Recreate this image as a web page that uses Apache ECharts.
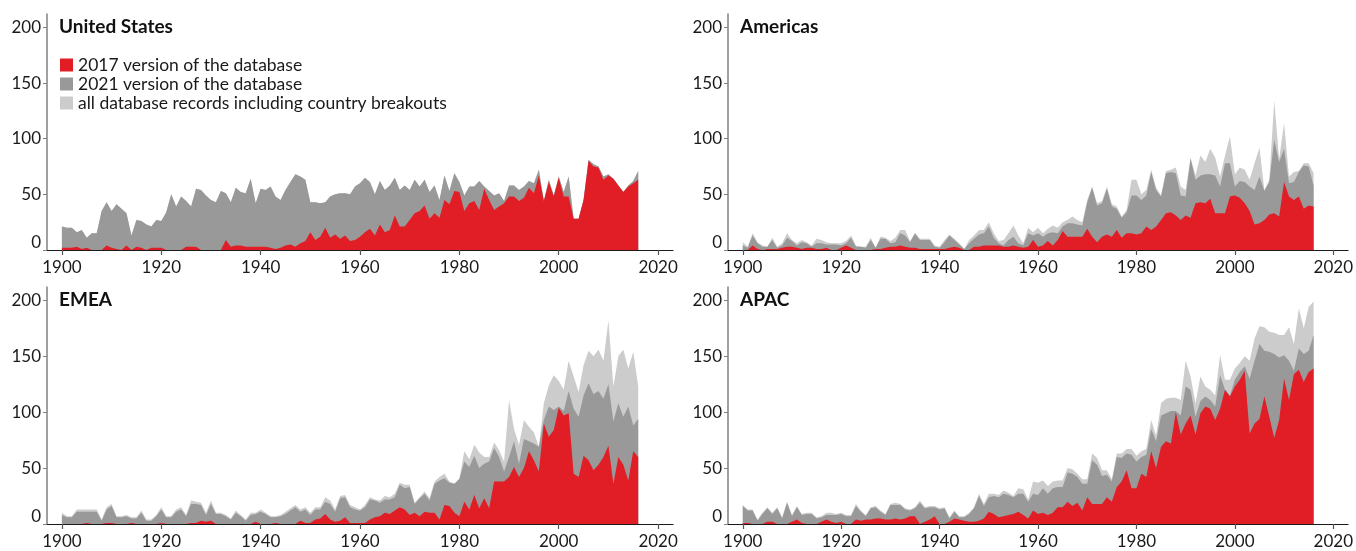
<!DOCTYPE html>
<html>
<head>
<meta charset="utf-8">
<script src="https://cdn.jsdelivr.net/npm/echarts@6/dist/echarts.min.js"></script>
<style>
  html, body { margin: 0; padding: 0; background: #ffffff; }
  #chart { width: 1356px; height: 551px; }
</style>
</head>
<body>
<div id="chart"></div>
<script>
// Years covered by the database extracts
const years = [];
for (let y = 1900; y <= 2016; y++) years.push(y);

const xTicks = [1900, 1920, 1940, 1960, 1980, 2000, 2020];
const yTicks = [0, 50, 100, 150, 200];

const NAME_2017 = '2017 version of the database';
const NAME_2021 = '2021 version of the database';
const NAME_ALL = 'all database records including country breakouts';

// ---- United States ----
const usAll = [
  21, 20, 20, 16, 18, 11, 15, 15, 35, 43,
  35, 41, 37, 33, 13, 27, 26, 23, 21, 27,
  26, 34, 50, 39, 48, 44, 39, 55, 54, 49,
  45, 43, 53, 51, 43, 56, 52, 51, 64, 42,
  55, 54, 57, 48, 45, 54, 61, 68, 66, 63,
  43, 43, 42, 43, 48, 50, 51, 51, 50, 57,
  60, 65, 61, 50, 62, 54, 58, 65, 54, 58,
  54, 63, 57, 63, 52, 58, 45, 67, 53, 69,
  61, 49, 57, 57, 62, 57, 53, 49, 51, 44,
  58, 58, 54, 57, 62, 60, 72, 44, 63, 49,
  66, 52, 66, 28, 28, 45, 81, 77, 75, 66,
  68, 64, 58, 52, 58, 62, 71
];
const us2021 = [
  21, 20, 20, 16, 18, 11, 15, 15, 35, 43,
  35, 41, 37, 33, 13, 27, 26, 23, 21, 27,
  26, 34, 50, 39, 48, 44, 39, 55, 54, 49,
  45, 43, 53, 51, 43, 56, 52, 51, 64, 42,
  55, 54, 57, 48, 45, 54, 61, 68, 66, 63,
  43, 43, 42, 43, 48, 50, 51, 51, 50, 57,
  60, 65, 61, 50, 62, 54, 58, 65, 54, 58,
  54, 63, 57, 63, 52, 58, 45, 67, 53, 69,
  61, 49, 57, 57, 62, 57, 53, 49, 51, 44,
  58, 58, 54, 57, 62, 60, 72, 44, 63, 49,
  66, 52, 66, 28, 28, 45, 81, 77, 75, 66,
  68, 64, 58, 52, 58, 62, 71
];
const us2017 = [
  2, 2, 2, 3, 1, 2, 0, 0, 0, 4,
  2, 1, 0, 4, 0, 3, 2, 0, 2, 2,
  2, 0, 0, 0, 0, 3, 3, 3, 0, 0,
  0, 0, 0, 9, 3, 4, 4, 3, 3, 3,
  3, 3, 2, 1, 2, 4, 5, 3, 6, 8,
  16, 9, 12, 20, 11, 14, 10, 13, 8, 9,
  12, 16, 19, 13, 23, 16, 18, 31, 21, 21,
  27, 33, 35, 40, 28, 33, 29, 45, 41, 53,
  52, 35, 42, 44, 36, 55, 45, 36, 39, 42,
  48, 48, 44, 47, 56, 51, 67, 44, 61, 48,
  65, 48, 48, 28, 28, 45, 80, 75, 74, 63,
  67, 64, 58, 52, 57, 60, 63
];

// ---- Americas ----
const amAll = [
  7, 3, 15, 7, 4, 3, 11, 3, 6, 15,
  9, 6, 9, 7, 4, 10, 9, 7, 6, 6,
  6, 8, 13, 4, 3, 3, 11, 2, 12, 11,
  8, 11, 18, 18, 8, 15, 10, 10, 10, 4,
  3, 9, 14, 10, 6, 1, 9, 13, 18, 18,
  25, 15, 8, 9, 15, 22, 13, 6, 20, 16,
  20, 15, 19, 22, 20, 25, 27, 30, 27, 25,
  45, 57, 42, 44, 57, 41, 39, 30, 36, 63,
  63, 50, 54, 72, 56, 49, 71, 72, 74, 57,
  54, 83, 67, 85, 79, 91, 83, 66, 85, 102,
  68, 74, 72, 63, 78, 92, 54, 63, 134, 82,
  114, 66, 70, 71, 78, 78, 69
];
const am2021 = [
  4, 2, 13, 6, 3, 3, 9, 2, 4, 11,
  8, 4, 7, 6, 3, 6, 6, 5, 5, 5,
  4, 6, 11, 3, 3, 2, 9, 2, 10, 10,
  6, 7, 15, 13, 7, 15, 9, 9, 9, 3,
  2, 7, 13, 9, 5, 1, 6, 10, 14, 15,
  21, 11, 6, 4, 9, 12, 6, 4, 15, 13,
  15, 12, 15, 16, 15, 21, 24, 24, 23, 22,
  43, 56, 40, 42, 55, 39, 37, 29, 34, 49,
  49, 45, 49, 70, 54, 48, 69, 70, 69, 49,
  48, 82, 63, 67, 68, 68, 67, 57, 78, 78,
  57, 62, 61, 57, 54, 66, 53, 61, 99, 79,
  91, 60, 61, 70, 76, 75, 58
];
const am2017 = [
  0, 0, 4, 1, 0, 1, 1, 1, 2, 3,
  3, 2, 1, 2, 2, 1, 1, 2, 0, 0,
  2, 4, 2, 0, 0, 0, 0, 1, 1, 2,
  3, 3, 4, 3, 2, 2, 1, 1, 1, 1,
  1, 1, 2, 3, 2, 0, 0, 3, 3, 4,
  4, 4, 4, 3, 3, 4, 3, 2, 3, 9,
  3, 4, 8, 4, 9, 17, 12, 12, 12, 12,
  19, 12, 7, 12, 14, 12, 18, 11, 15, 15,
  14, 15, 21, 18, 21, 27, 33, 34, 31, 27,
  31, 29, 42, 43, 42, 46, 33, 33, 33, 48,
  49, 47, 42, 35, 23, 24, 27, 32, 33, 30,
  61, 48, 45, 48, 37, 40, 39
];

// ---- EMEA ----
const emAll = [
  10, 7, 7, 13, 13, 13, 13, 13, 4, 15,
  18, 7, 7, 8, 6, 6, 12, 4, 4, 8,
  15, 7, 7, 13, 15, 8, 21, 20, 19, 10,
  21, 10, 10, 8, 5, 12, 8, 4, 10, 10,
  13, 10, 7, 7, 8, 11, 14, 17, 13, 15,
  10, 15, 15, 24, 21, 13, 25, 26, 17, 15,
  13, 17, 24, 22, 21, 25, 24, 27, 37, 35,
  35, 19, 24, 29, 23, 38, 42, 45, 38, 36,
  41, 65, 58, 71, 64, 60, 60, 73, 66, 56,
  111, 85, 71, 93, 87, 82, 69, 108, 124, 133,
  128, 120, 146, 132, 118, 142, 155, 150, 156, 146,
  182, 123, 150, 156, 139, 154, 123
];
const em2021 = [
  8, 6, 6, 11, 11, 11, 11, 11, 3, 13,
  16, 6, 6, 7, 5, 5, 10, 3, 3, 7,
  13, 6, 6, 11, 13, 7, 18, 18, 17, 8,
  18, 9, 9, 7, 4, 10, 7, 3, 8, 9,
  11, 9, 6, 6, 7, 9, 12, 15, 11, 13,
  8, 13, 13, 20, 18, 11, 23, 24, 15, 13,
  12, 15, 22, 21, 19, 22, 22, 24, 35, 32,
  33, 18, 23, 27, 21, 36, 39, 41, 37, 36,
  40, 56, 51, 61, 50, 54, 56, 68, 60, 47,
  60, 74, 54, 76, 74, 72, 69, 93, 105, 102,
  105, 101, 119, 103, 96, 115, 126, 116, 119, 112,
  125, 92, 108, 96, 105, 88, 94
];
const em2017 = [
  0, 0, 0, 0, 0, 1, 0, 0, 0, 1,
  1, 0, 0, 0, 1, 0, 0, 0, 0, 0,
  1, 0, 0, 0, 0, 0, 1, 1, 3, 2,
  3, 0, 0, 0, 0, 0, 0, 0, 0, 2,
  0, 0, 0, 1, 0, 0, 0, 0, 3, 1,
  1, 4, 5, 9, 4, 2, 3, 6, 1, 1,
  1, 1, 4, 6, 7, 10, 9, 12, 15, 13,
  8, 10, 7, 11, 10, 10, 4, 17, 16, 10,
  7, 20, 13, 26, 14, 23, 14, 38, 38, 38,
  42, 51, 42, 50, 65, 57, 47, 90, 78, 84,
  104, 97, 99, 45, 42, 61, 57, 48, 53, 60,
  70, 36, 60, 53, 39, 65, 60
];

// ---- APAC ----
const apAll = [
  17, 13, 13, 4, 10, 15, 10, 15, 6, 20,
  8, 16, 9, 10, 10, 6, 7, 10, 10, 9,
  10, 8, 8, 18, 12, 8, 15, 16, 12, 9,
  18, 19, 18, 14, 13, 15, 21, 15, 16, 16,
  14, 15, 6, 12, 7, 7, 10, 15, 27, 18,
  27, 27, 26, 30, 28, 25, 32, 31, 22, 38,
  37, 39, 34, 38, 39, 39, 50, 49, 45, 40,
  40, 63, 59, 48, 48, 40, 63, 63, 67, 67,
  61, 65, 67, 93, 79, 108, 112, 113, 113, 111,
  146, 132, 108, 132, 123, 120, 115, 151, 129, 129,
  139, 144, 150, 146, 166, 177, 176, 172, 171, 169,
  169, 176, 161, 193, 175, 194, 199
];
const ap2021 = [
  16, 12, 12, 3, 9, 14, 9, 14, 5, 19,
  7, 15, 8, 9, 9, 5, 6, 8, 8, 8,
  9, 7, 7, 16, 11, 7, 14, 15, 11, 8,
  17, 17, 17, 13, 12, 14, 19, 14, 15, 15,
  13, 14, 5, 11, 6, 6, 9, 14, 25, 16,
  24, 25, 24, 27, 26, 24, 27, 27, 20, 27,
  26, 32, 27, 32, 33, 33, 46, 45, 42, 36,
  36, 57, 53, 43, 44, 38, 60, 59, 63, 62,
  56, 60, 62, 85, 74, 97, 99, 101, 101, 97,
  123, 120, 96, 110, 114, 111, 105, 133, 120, 115,
  129, 136, 141, 130, 146, 161, 155, 154, 152, 149,
  151, 146, 137, 157, 152, 155, 169
];
const ap2017 = [
  1, 1, 0, 0, 0, 2, 2, 0, 0, 0,
  2, 4, 1, 0, 0, 0, 2, 4, 2, 1,
  2, 0, 0, 4, 3, 4, 4, 5, 5, 4,
  4, 5, 4, 5, 7, 7, 0, 2, 4, 7,
  0, 0, 2, 5, 4, 3, 2, 2, 3, 5,
  11, 9, 6, 7, 8, 9, 11, 8, 5, 12,
  9, 10, 8, 10, 15, 15, 20, 16, 19, 12,
  24, 18, 18, 18, 24, 20, 33, 38, 48, 32,
  32, 45, 42, 65, 50, 69, 74, 72, 100, 80,
  90, 97, 80, 99, 105, 103, 93, 103, 120, 114,
  123, 129, 137, 81, 90, 94, 114, 96, 77, 93,
  130, 111, 134, 138, 127, 136, 139
];

const COLORS = { v2017: '#e11d25', v2021: '#999999', all: '#cccccc' };
const FONT = 'Lato';
const TEXT = '#1a1a1a';

const panels = [
  { title: 'United States', all: usAll, v2021: us2021, v2017: us2017, left: 47,  top: 14,  width: 626, height: 236 },
  { title: 'Americas',      all: amAll, v2021: am2021, v2017: am2017, left: 728, top: 14,  width: 627, height: 236 },
  { title: 'EMEA',          all: emAll, v2021: em2021, v2017: em2017, left: 47,  top: 287, width: 626, height: 237 },
  { title: 'APAC',          all: apAll, v2021: ap2021, v2017: ap2017, left: 728, top: 287, width: 627, height: 237 }
];

const pairs = (arr) => years.map((y, k) => [y, arr[k]]);

const grids = [], xAxes = [], yAxes = [], titles = [], series = [];

panels.forEach((p, i) => {
  grids.push({ left: p.left, top: p.top, width: p.width, height: p.height, containLabel: false });
  titles.push({
    text: p.title,
    left: p.left + 12,
    top: p.top + 3,
    padding: 0,
    textStyle: { fontFamily: FONT, fontWeight: 'bold', fontSize: 19, color: '#111111' }
  });
  xAxes.push({
    type: 'value', gridIndex: i, min: 1897, max: 2023,
    axisLine: { show: true, lineStyle: { color: '#1a1a1a', width: 1.2 } },
    axisTick: { show: true, customValues: xTicks, length: 5, lineStyle: { color: '#555555', width: 1.2 } },
    axisLabel: {
      customValues: xTicks, fontFamily: FONT, fontSize: 17, color: TEXT, margin: 9,
      formatter: (v) => String(v)
    },
    splitLine: { show: false }
  });
  yAxes.push({
    type: 'value', gridIndex: i, min: 0, max: 212,
    axisLine: { show: true, lineStyle: { color: '#808080', width: 1.5 } },
    axisTick: { show: true, customValues: yTicks, length: 4, lineStyle: { color: '#808080' } },
    axisLabel: {
      customValues: yTicks, fontFamily: FONT, fontSize: 17, color: TEXT, margin: 6,
      formatter: (v) => (v === 0 ? '{z|0}' : String(v)),
      rich: { z: { fontFamily: FONT, fontSize: 17, color: TEXT, padding: [0, 0, 14, 0] } }
    },
    splitLine: { show: false }
  });
  const layer = (name, data, color, z) => ({
    name, type: 'line', xAxisIndex: i, yAxisIndex: i, data: pairs(data),
    showSymbol: false, symbol: 'none', silent: true, z,
    lineStyle: { width: 0, color },
    itemStyle: { color },
    areaStyle: { color, opacity: 1 }
  });
  series.push(layer(NAME_ALL, p.all, COLORS.all, 2));
  series.push(layer(NAME_2021, p.v2021, COLORS.v2021, 3));
  series.push(layer(NAME_2017, p.v2017, COLORS.v2017, 4));
});

const chart = echarts.init(document.getElementById('chart'), null, { renderer: 'canvas' });
chart.setOption({
  animation: false,
  backgroundColor: '#ffffff',
  title: titles,
  legend: {
    data: [NAME_2017, NAME_2021, NAME_ALL],
    orient: 'vertical',
    left: 60, top: 56,
    icon: 'rect', itemWidth: 13, itemHeight: 13, itemGap: 1,
    padding: 0, selectedMode: false,
    textStyle: { fontFamily: FONT, fontSize: 17.5, color: TEXT }
  },
  grid: grids,
  xAxis: xAxes,
  yAxis: yAxes,
  series
});
</script>
</body>
</html>
